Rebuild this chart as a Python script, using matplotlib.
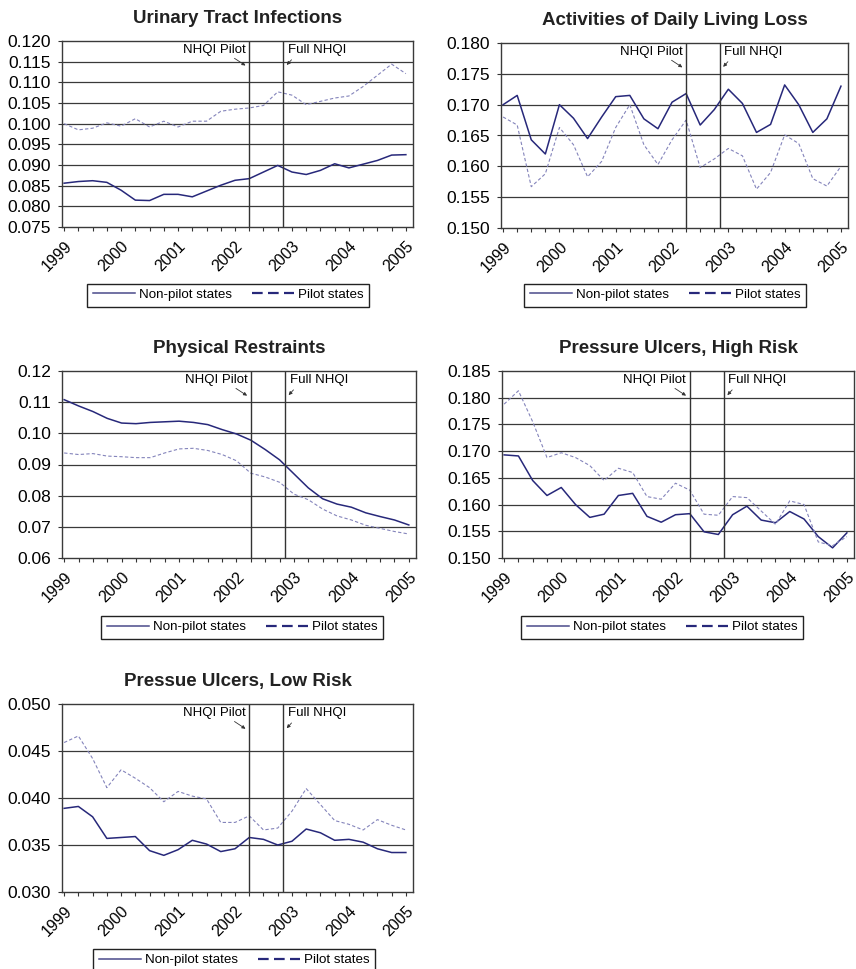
import matplotlib
matplotlib.use('Agg')
import matplotlib.pyplot as plt
import matplotlib.transforms as mtransforms
from matplotlib.lines import Line2D
import numpy as np

plt.rcParams['font.family'] = ['Liberation Sans', 'DejaVu Sans']

# quarterly observations, 1999 Q1 .. 2005 Q1
quarters = np.arange(25)
year_labels = ['1999', '2000', '2001', '2002', '2003', '2004', '2005']
pilot_start = 13.0   # NHQI Pilot
full_start = 15.4    # Full NHQI

uti_nonpilot = [0.0856, 0.0860, 0.0862, 0.0858, 0.0839, 0.0815, 0.0814, 0.0829, 0.0829,
                0.0823, 0.0837, 0.0851, 0.0863, 0.0867, 0.0883, 0.0899, 0.0883, 0.0877,
                0.0887, 0.0903, 0.0893, 0.0902, 0.0911, 0.0924, 0.0925]
uti_pilot = [0.1000, 0.0985, 0.0989, 0.1002, 0.0994, 0.1012, 0.0992, 0.1006, 0.0992,
             0.1006, 0.1006, 0.1030, 0.1035, 0.1038, 0.1044, 0.1077, 0.1069, 0.1046,
             0.1054, 0.1062, 0.1067, 0.1090, 0.1117, 0.1144, 0.1121]

adl_nonpilot = [0.1700, 0.1715, 0.1643, 0.1620, 0.1700, 0.1678, 0.1645, 0.1680, 0.1713,
                0.1715, 0.1677, 0.1661, 0.1704, 0.1718, 0.1667, 0.1692, 0.1725, 0.1702,
                0.1655, 0.1668, 0.1732, 0.1700, 0.1655, 0.1677, 0.1730]
adl_pilot = [0.1680, 0.1667, 0.1567, 0.1588, 0.1663, 0.1635, 0.1583, 0.1608, 0.1663,
             0.1700, 0.1635, 0.1603, 0.1643, 0.1675, 0.1598, 0.1612, 0.1629, 0.1617,
             0.1563, 0.1590, 0.1651, 0.1637, 0.1580, 0.1568, 0.1600]

pr_nonpilot = [0.1108, 0.1088, 0.1070, 0.1048, 0.1033, 0.1031, 0.1035, 0.1037, 0.1039,
               0.1035, 0.1028, 0.1012, 0.0998, 0.0978, 0.0948, 0.0915, 0.0870, 0.0825,
               0.0790, 0.0773, 0.0763, 0.0745, 0.0733, 0.0722, 0.0706]
pr_pilot = [0.0937, 0.0932, 0.0935, 0.0927, 0.0925, 0.0922, 0.0922, 0.0937, 0.0950,
            0.0952, 0.0945, 0.0932, 0.0912, 0.0872, 0.0860, 0.0843, 0.0805, 0.0787,
            0.0757, 0.0735, 0.0722, 0.0705, 0.0695, 0.0685, 0.0677]

puh_nonpilot = [0.1693, 0.1691, 0.1645, 0.1617, 0.1632, 0.1600, 0.1576, 0.1582, 0.1617,
                0.1621, 0.1578, 0.1567, 0.1581, 0.1583, 0.1549, 0.1544, 0.1581, 0.1597,
                0.1571, 0.1566, 0.1587, 0.1573, 0.1540, 0.1519, 0.1547]
puh_pilot = [0.1788, 0.1813, 0.1755, 0.1688, 0.1697, 0.1688, 0.1673, 0.1645, 0.1668,
             0.1660, 0.1615, 0.1610, 0.1640, 0.1627, 0.1582, 0.1580, 0.1615, 0.1613,
             0.1588, 0.1563, 0.1607, 0.1600, 0.1530, 0.1523, 0.1540]

pul_nonpilot = [0.0389, 0.0391, 0.0380, 0.0357, 0.0358, 0.0359, 0.0344, 0.0339, 0.0345,
                0.0355, 0.0351, 0.0343, 0.0346, 0.0358, 0.0356, 0.0350, 0.0354, 0.0367,
                0.0363, 0.0355, 0.0356, 0.0353, 0.0346, 0.0342, 0.0342]
pul_pilot = [0.0459, 0.0466, 0.0442, 0.0411, 0.0430, 0.0421, 0.0411, 0.0396, 0.0407,
             0.0402, 0.0399, 0.0374, 0.0374, 0.0381, 0.0366, 0.0368, 0.0386, 0.0410,
             0.0393, 0.0376, 0.0372, 0.0366, 0.0377, 0.0371, 0.0366]

W, H = 856, 969
NAVY = '#27287a'

# (title, nonpilot, pilot, yticks, fmt, axes box px [l, t, r, b], legend centre px)
panels = [
    ('Urinary Tract Infections', uti_nonpilot, uti_pilot,
     np.arange(0.075, 0.1201, 0.005), '%.3f', (62, 41, 413, 227), (228, 295)),
    ('Activities of Daily Living Loss', adl_nonpilot, adl_pilot,
     np.arange(0.150, 0.1801, 0.005), '%.3f', (501, 43, 848, 228), (665, 295)),
    ('Physical Restraints', pr_nonpilot, pr_pilot,
     np.arange(0.06, 0.1201, 0.01), '%.2f', (62, 371, 416, 558), (242, 627)),
    ('Pressure Ulcers, High Risk', puh_nonpilot, puh_pilot,
     np.arange(0.150, 0.1851, 0.005), '%.3f', (502, 371, 854, 558), (662, 627)),
    ('Pressue Ulcers, Low Risk', pul_nonpilot, pul_pilot,
     np.arange(0.030, 0.0501, 0.005), '%.3f', (62, 704, 413, 892), (234, 960)),
]

fig = plt.figure(figsize=(W / 100, H / 100), dpi=100)

for title, nonpilot, pilot, yt, fmt, box, leg in panels:
    l, t, r, b = box
    ax = fig.add_axes([l / W, 1 - b / H, (r - l) / W, (b - t) / H])

    ax.plot(quarters, nonpilot, color=NAVY, lw=1.1)
    ax.plot(quarters, pilot, color='#8484bb', lw=0.8, ls=(0, (3, 2)))

    ax.set_xlim(-0.15, 24.5)
    ax.set_ylim(yt[0], yt[-1])
    ax.set_yticks(yt)
    ax.set_yticklabels([fmt % v for v in yt], fontsize=12.5)
    ax.set_xticks(quarters[::4])
    ax.set_xticks(quarters, minor=True)
    ax.set_xticklabels(year_labels, rotation=45, ha='right', va='top',
                       rotation_mode='anchor', fontsize=11.5)
    ax.tick_params(axis='both', which='both', direction='out', length=3,
                   width=0.8, color='#333333')
    ax.tick_params(axis='x', pad=5)
    ax.tick_params(axis='y', pad=5)
    for v in yt[1:-1]:
        ax.axhline(v, color='#3a3a3a', lw=0.9, zorder=0)
    for s in ax.spines.values():
        s.set_color('#3a3a3a')
        s.set_linewidth(1.0)

    ax.axvline(pilot_start, color='#333333', lw=1.0)
    ax.axvline(full_start, color='#333333', lw=1.0)

    trans = mtransforms.blended_transform_factory(ax.transData, ax.transAxes)
    ax.text(pilot_start - 0.25, 0.95, 'NHQI Pilot', transform=trans,
            ha='right', va='center', fontsize=9.5)
    ax.text(full_start + 0.3, 0.95, 'Full NHQI', transform=trans,
            ha='left', va='center', fontsize=9.5)
    ax.annotate('', xy=(pilot_start - 0.1, 0.86), xytext=(pilot_start - 1.2, 0.915),
                xycoords=('data', 'axes fraction'), textcoords=('data', 'axes fraction'),
                arrowprops=dict(arrowstyle='-|>', color='#333333', lw=0.6,
                                mutation_scale=5))
    ax.annotate('', xy=(full_start + 0.1, 0.86), xytext=(full_start + 0.7, 0.91),
                xycoords=('data', 'axes fraction'), textcoords=('data', 'axes fraction'),
                arrowprops=dict(arrowstyle='-|>', color='#333333', lw=0.6,
                                mutation_scale=5))

    ax.set_title(title, fontsize=13.5, fontweight='bold', pad=13, color='#222222')

    handles = [Line2D([], [], color='#4a4a8a', lw=1.1),
               Line2D([], [], color=NAVY, lw=1.6, ls=(0, (4.8, 2.4)))]
    ax.legend(handles, ['Non-pilot states', 'Pilot states'], loc='center',
              bbox_to_anchor=(leg[0] / W, 1 - leg[1] / H),
              bbox_transform=fig.transFigure, ncol=2, fontsize=9.6,
              fancybox=False, edgecolor='#222222', framealpha=1,
              handlelength=3.2, columnspacing=1.5, handletextpad=0.25,
              borderpad=0.4, borderaxespad=0)

fig.savefig('out.png', dpi=100)
